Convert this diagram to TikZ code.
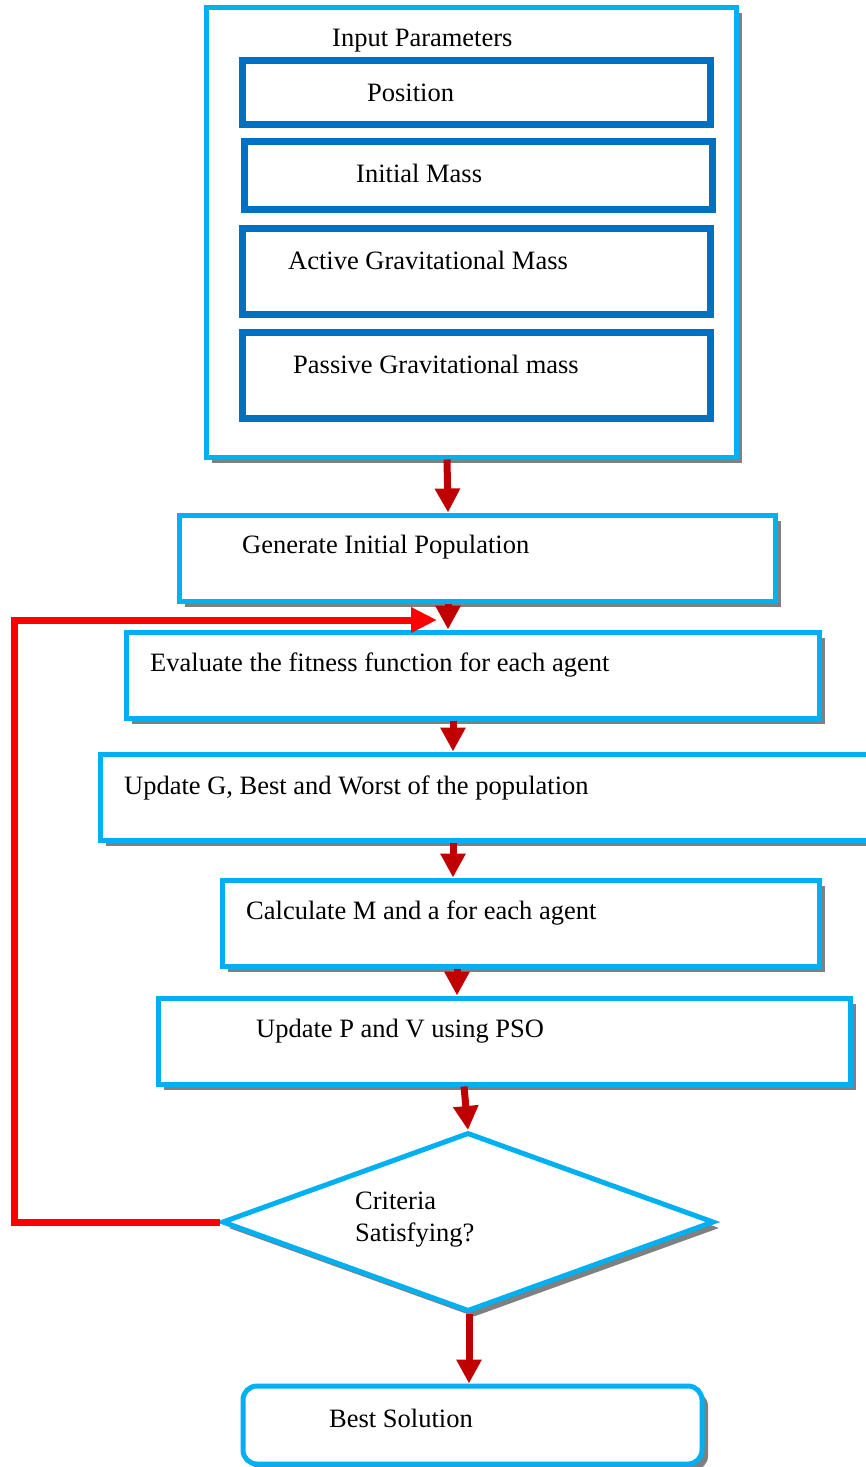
\documentclass[tikz,border=0pt]{standalone}
\usepackage{fontspec}
\setmainfont{Liberation Serif}
\usetikzlibrary{arrows.meta,shapes.geometric,shadows}
\definecolor{cyanbox}{HTML}{00B0F0}
\definecolor{darkblue}{HTML}{0070C0}
\definecolor{darkred}{HTML}{C00000}
\definecolor{brightred}{HTML}{FF0000}
\definecolor{shadowgray}{HTML}{808080}
\begin{document}
\begin{tikzpicture}[x=1pt,y=-1pt,
  shad/.style={drop shadow={shadow xshift=6pt,shadow yshift=-6pt,fill=shadowgray,opacity=1}},
  box/.style={rectangle, draw=cyanbox, line width=5pt, fill=white, inner sep=0pt, shad},
  inbox/.style={rectangle, draw=darkblue, line width=7pt, fill=white, inner sep=0pt},
  lbl/.style={anchor=base west, inner sep=0pt, font=\fontsize{26.5}{32}\selectfont},
  arr/.style={draw=darkred, line width=7pt, -{Triangle[width=24pt,length=24pt]}},
  fb/.style={draw=brightred, line width=7pt, -{Triangle[width=24pt,length=26pt]}}]
\useasboundingbox (0,0) rectangle (865,1467);
% boxes
\node[box, minimum width=530pt, minimum height=450pt] (inp) at (471,232) {};
\node[inbox, minimum width=468pt, minimum height=64pt] (pos) at (476.5,92) {};
\node[inbox, minimum width=468pt, minimum height=68pt] (mass) at (478.5,175) {};
\node[inbox, minimum width=468pt, minimum height=86pt] (act) at (476.5,271) {};
\node[inbox, minimum width=468pt, minimum height=86pt] (pas) at (476.5,375) {};
\node[box, minimum width=596pt, minimum height=86pt] (gen) at (477,558) {};
\node[box, minimum width=693pt, minimum height=86pt] (eval) at (472.5,675) {};
\node[box, minimum width=780pt, minimum height=86pt] (upd) at (490,797) {};
\node[box, minimum width=597pt, minimum height=86pt] (calc) at (520.5,923) {};
\node[box, minimum width=692pt, minimum height=86pt] (updp) at (504,1041) {};
\node[diamond, draw=cyanbox, line width=5pt, fill=white, inner sep=0pt, shad,
      minimum width=492pt, minimum height=179pt] (dia) at (468,1222) {};
\node[box, rounded corners=14pt, minimum width=459pt, minimum height=78pt] (best) at (472.5,1425) {};
% labels
\node[lbl] (tinp) at (332,46) {Input Parameters};
\node[lbl] (tpos) at (367,101) {Position};
\node[lbl] (tmass) at (356,182) {Initial Mass};
\node[lbl] (tact) at (288,269) {Active Gravitational Mass};
\node[lbl] (tpas) at (293,373) {Passive Gravitational mass};
\node[lbl] (tgen) at (242,553) {Generate Initial Population};
\node[lbl] (teval) at (150,671) {Evaluate the fitness function for each agent};
\node[lbl] (tupd) at (124,794) {Update G, Best and Worst of the population};
\node[lbl] (tcalc) at (246,919) {Calculate M and a for each agent};
\node[lbl] (tupdp) at (256,1037) {Update P and V using PSO};
\node[lbl, align=left] (tdia) at (355,1241) {Criteria\\Satisfying?};
\node[lbl] (tbest) at (329,1427) {Best Solution};
% feedback loop
\coordinate (fbx) at (14,0);
\coordinate (fbend) at (437,620);
\draw[fb] (dia.west) -- (dia.west -| fbx) |- (fbend);
% arrows
\draw[arr] ([xshift=-24pt]inp.south) -- ([xshift=-29pt]gen.north);
\draw[arr] ([xshift=-29pt]gen.south) -- ([xshift=-24.5pt]eval.north);
\draw[arr] ([xshift=-19.5pt]eval.south) -- ([xshift=-37pt]upd.north);
\draw[arr] ([xshift=-37pt]upd.south) -- ([xshift=-67.5pt]calc.north);
\draw[arr] ([xshift=-63.5pt]calc.south) -- ([xshift=-47pt]updp.north);
\draw[arr] ([xshift=-40pt]updp.south) -- (dia.north);
\draw[arr] ([xshift=1pt]dia.south) -- ([xshift=-3.5pt]best.north);
\end{tikzpicture}
\end{document}
